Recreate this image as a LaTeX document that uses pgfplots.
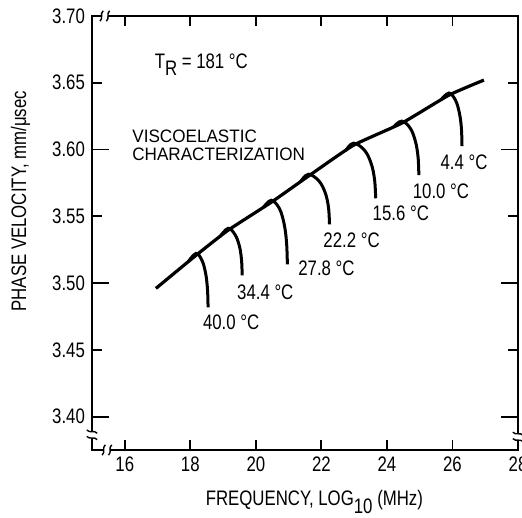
\documentclass[border=0pt]{standalone}
\usepackage{pgfplots}
\pgfplotsset{compat=1.18}
\usepackage{fontspec}
\setmainfont{Liberation Sans}[FakeStretch=0.8]
\newfontfamily\widefont{Liberation Sans}[FakeStretch=0.95]
\newcommand\brk[2]{%
  \begin{scope}[shift={(#1)},rotate=#2]
    \fill[white] (-1.6pt,-1.3pt) rectangle (1.6pt,1.3pt);
    \draw[line width=0.7pt] (-2.4pt,-2.6pt) .. controls (-0.6pt,-1pt) and (-2.6pt,1pt) .. (-0.8pt,2.6pt);
    \draw[line width=0.7pt] (0.8pt,-2.6pt) .. controls (2.6pt,-1pt) and (0.6pt,1pt) .. (2.4pt,2.6pt);
  \end{scope}}
\begin{document}
\begin{tikzpicture}[font=\fontsize{10.5}{12}\selectfont]
\begin{axis}[
  scale only axis, width=213pt, height=217pt,
  xmin=15, xmax=28, ymin=3.375, ymax=3.70,
  xtick={16,18,...,28},
  ytick={3.40,3.45,3.50,3.55,3.60,3.65,3.70},
  yticklabel style={/pgf/number format/.cd, fixed, fixed zerofill, precision=2},
  /pgf/number format/assume math mode=true,
  tick align=inside,
  major tick length=5pt,
  axis line style={line width=1pt},
  every tick/.style={black, line width=0.9pt},
  extra y ticks={3.40,3.50,3.60}, extra y tick labels={},
  extra y tick style={major tick length=8.5pt},
  xlabel={FREQUENCY,\ LOG\raisebox{-0.8ex}{10} (MHz)},
  ylabel={PHASE VELOCITY,\ mm/μsec},
  xlabel style={at={(axis description cs:0.522,-0.127)}, anchor=base},
  ylabel style={at={(axis description cs:-0.168,0.573)}, anchor=center},
  clip=false,
]
% master curve
\addplot[black, line width=1.6pt, smooth, tension=0.3] coordinates {
 (16.95,3.496) (18.17,3.5207) (19.15,3.5395) (20.47,3.5605) (21.60,3.580)
 (22.98,3.6032) (24.45,3.6197) (25.89,3.6407) (26.96,3.652)};
% isotherm segments
\addplot[black, line width=1.5pt, smooth, tension=0.6] coordinates {
 (17.930,3.5158) (18.175,3.5222) (18.358,3.5169) (18.469,3.5071) (18.524,3.4954) (18.542,3.4818)};
\addplot[black, line width=1.5pt, smooth, tension=0.6] coordinates {
 (18.910,3.5349) (19.155,3.5410) (19.369,3.5361) (19.498,3.5277) (19.562,3.5176) (19.583,3.5058)};
\addplot[black, line width=1.5pt, smooth, tension=0.6] coordinates {
 (20.227,3.5566) (20.472,3.5620) (20.717,3.5559) (20.864,3.5442) (20.937,3.5303) (20.962,3.5140)};
\addplot[black, line width=1.5pt, smooth, tension=0.6] coordinates {
 (21.360,3.5758) (21.605,3.5815) (21.927,3.5764) (22.120,3.5674) (22.217,3.5566) (22.248,3.5440)};
\addplot[black, line width=1.5pt, smooth, tension=0.6] coordinates {
 (22.738,3.5991) (22.983,3.6048) (23.320,3.5993) (23.522,3.5893) (23.623,3.5774) (23.657,3.5635)};
\addplot[black, line width=1.5pt, smooth, tension=0.6] coordinates {
 (24.208,3.6170) (24.453,3.6213) (24.714,3.6159) (24.870,3.6061) (24.950,3.5944) (24.974,3.5808)};
\addplot[black, line width=1.5pt, smooth, tension=0.6] coordinates {
 (25.648,3.6372) (25.893,3.6423) (26.092,3.6369) (26.211,3.6274) (26.273,3.6159) (26.291,3.6025)};
% labels
\node[anchor=base west] at (axis cs:16.70,3.661) {T\raisebox{-0.7ex}{R} = 181 °C};
\node[anchor=base west, inner sep=0pt, font=\widefont\fontsize{9}{10}\selectfont] at (axis cs:16.22,3.6052) {VISCOELASTIC};
\node[anchor=base west, inner sep=0pt, font=\widefont\fontsize{9}{10}\selectfont] at (axis cs:16.22,3.5920) {CHARACTERIZATION};
\node at (axis cs:19.247,3.4705) {40.0 °C};
\node at (axis cs:20.288,3.493) {34.4 °C};
\node at (axis cs:22.156,3.511) {27.8 °C};
\node at (axis cs:22.922,3.532) {22.2 °C};
\node at (axis cs:24.423,3.5522) {15.6 °C};
\node at (axis cs:25.648,3.5688) {10.0 °C};
\node at (axis cs:26.352,3.5905) {4.4 °C};
\coordinate (bB) at (rel axis cs:0.035,0);
\coordinate (bT) at (rel axis cs:0.030,1);
\coordinate (bL) at (rel axis cs:0,0.035);
\coordinate (bR) at (rel axis cs:1,0.030);
\end{axis}
\brk{bB}{0}
\brk{bT}{0}
\brk{bL}{90}
\brk{bR}{90}
\pgfresetboundingbox
\path[use as bounding box] ([xshift=-46pt,yshift=-33.5pt]current axis.south west) rectangle ([xshift=2pt,yshift=8pt]current axis.north east);
\end{tikzpicture}
\end{document}
